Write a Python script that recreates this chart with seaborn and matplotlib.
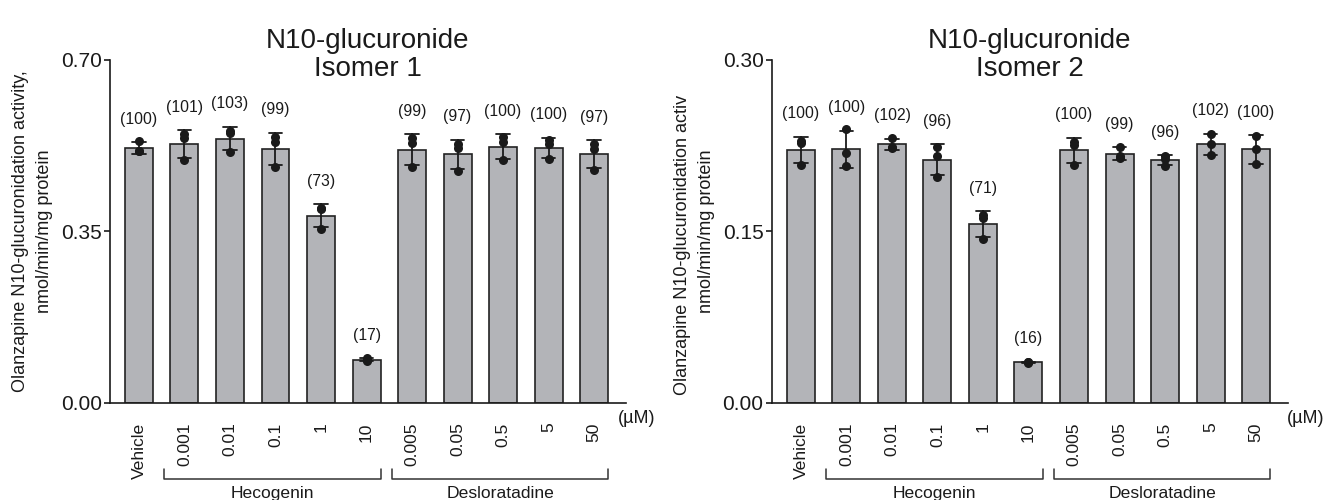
import numpy as np
import pandas as pd
import matplotlib
matplotlib.use("Agg")
import matplotlib.pyplot as plt
import matplotlib.transforms as mtransforms
import seaborn as sns

# ---------------- data ----------------
categories = ["Vehicle", "0.001", "0.01", "0.1", "1", "10",
              "0.005", "0.05", "0.5", "5", "50"]
group_names = ["Hecogenin", "Desloratadine"]
group_first = ["0.001", "0.005"]
group_last = ["10", "50"]

# individual replicate values (nmol/min/mg protein)
isomer1_reps = [
    [0.534, 0.514, 0.514],
    [0.548, 0.540, 0.495],
    [0.555, 0.552, 0.512],
    [0.542, 0.533, 0.482],
    [0.397, 0.395, 0.355],
    [0.091, 0.088, 0.086],
    [0.540, 0.530, 0.481],
    [0.529, 0.520, 0.474],
    [0.542, 0.533, 0.495],
    [0.537, 0.528, 0.497],
    [0.529, 0.519, 0.476],
]
isomer2_reps = [
    [0.229, 0.227, 0.208],
    [0.2395, 0.2185, 0.2077],
    [0.2319, 0.2240, 0.2229],
    [0.2243, 0.2159, 0.1978],
    [0.164, 0.162, 0.1436],
    [0.0360, 0.0355, 0.0350],
    [0.2284, 0.2260, 0.2083],
    [0.2243, 0.2160, 0.2141],
    [0.2161, 0.2130, 0.2074],
    [0.2354, 0.2264, 0.2168],
    [0.2339, 0.2223, 0.2092],
]
isomer1_pct = [100, 101, 103, 99, 73, 17, 99, 97, 100, 100, 97]
isomer2_pct = [100, 100, 102, 96, 71, 16, 100, 99, 96, 102, 100]
isomer1_ticks = [0.00, 0.35, 0.70]
isomer2_ticks = [0.00, 0.15, 0.30]
isomer1_title = "N10-glucuronide\nIsomer 1"
isomer2_title = "N10-glucuronide\nIsomer 2"
ylabel_line1_left = "Olanzapine N10-glucuronidation activity,"
ylabel_line1_right = "Olanzapine N10-glucuronidation activ"
ylabel_line2 = "nmol/min/mg protein"
unit_label = "(µM)"

# ---------------- style ----------------
sns.set_style("ticks")
plt.rcParams["font.family"] = ["Liberation Sans", "DejaVu Sans"]
BAR = "#b3b4b8"
INK = "#1a1a1a"

fig = plt.figure(figsize=(13.25, 5), dpi=100)
ax1 = fig.add_axes([0.0830, 0.194, 0.3894, 0.686])
ax2 = fig.add_axes([0.5826, 0.194, 0.3894, 0.686])


def draw(ax, reps, pct, ticks, title, line1, line1_full, unit_x):
    df = pd.DataFrame({"cond": np.repeat(categories, [len(r) for r in reps]),
                       "val": np.concatenate(reps)})
    sns.barplot(data=df, x="cond", y="val", order=categories, errorbar="sd",
                capsize=0.29, width=0.615, color=BAR, saturation=1,
                edgecolor="#222222", linewidth=1.2,
                err_kws={"color": INK, "linewidth": 1.3}, ax=ax)
    sns.stripplot(data=df, x="cond", y="val", order=categories, jitter=False,
                  color=INK, size=6.5, linewidth=0, ax=ax, zorder=5)

    stats = df.groupby("cond")["val"].agg(["mean", "std"]).reindex(categories)
    for i, (c, p) in enumerate(zip(categories, pct)):
        top = stats.loc[c, "mean"] + stats.loc[c, "std"]
        ax.annotate(f"({p})", (i, top), xytext=(0, 16.5), textcoords="offset points",
                    ha="center", va="center", fontsize=11.3, color=INK,
                    annotation_clip=False)

    ax.set_xlim(-0.637, 10.70)
    ax.set_ylim(ticks[0], ticks[-1])
    ax.set_yticks(ticks)
    ax.set_yticklabels([f"{t:.2f}" for t in ticks], fontsize=15)
    ax.set_xlabel("")
    ax.set_ylabel("")
    ax.tick_params(axis="y", length=4, width=1.2, pad=2, colors=INK)
    ax.tick_params(axis="x", length=0, pad=14, labelsize=12.6, labelrotation=90,
                   colors=INK)
    for s in ["top", "right"]:
        ax.spines[s].set_visible(False)
    for s in ["left", "bottom"]:
        ax.spines[s].set_linewidth(1.2)
        ax.spines[s].set_color(INK)

    # title
    ax.text(0.5, 0.936, title, transform=ax.transAxes, ha="center", va="bottom",
            fontsize=20, linespacing=1.1, color=INK)

    # y label (two lines)
    if line1_full:
        ax.text(-0.1565, 0.5, line1, transform=ax.transAxes, rotation=90,
                rotation_mode="anchor", ha="center", va="bottom", fontsize=13,
                color=INK)
    else:
        ax.text(-0.1565, 0.023, line1, transform=ax.transAxes, rotation=90,
                rotation_mode="anchor", ha="left", va="bottom", fontsize=13,
                color=INK)
    ax.text(-0.110, 0.5, ylabel_line2, transform=ax.transAxes, rotation=90,
            rotation_mode="anchor", ha="center", va="bottom", fontsize=13,
            color=INK)

    # unit
    ax.text(unit_x, -0.044, unit_label, transform=ax.transAxes, ha="left",
            va="center", fontsize=13, color=INK)

    # group brackets
    trans = mtransforms.blended_transform_factory(ax.transData, ax.transAxes)
    for name, a, b in zip(group_names, group_first, group_last):
        x0 = categories.index(a) - 0.44
        x1 = categories.index(b) + 0.31
        ax.plot([x0, x0, x1, x1], [-0.192, -0.2216, -0.2216, -0.192],
                transform=trans, clip_on=False, color="#333333", linewidth=1.1)
        ax.text((x0 + x1) / 2, -0.277, name, transform=trans, ha="center",
                va="baseline", fontsize=12.6, color=INK)


draw(ax1, isomer1_reps, isomer1_pct, isomer1_ticks, isomer1_title,
     ylabel_line1_left, True, 0.984)
draw(ax2, isomer2_reps, isomer2_pct, isomer2_ticks, isomer2_title,
     ylabel_line1_right, False, 0.998)

fig.savefig("out.png", dpi=100)
